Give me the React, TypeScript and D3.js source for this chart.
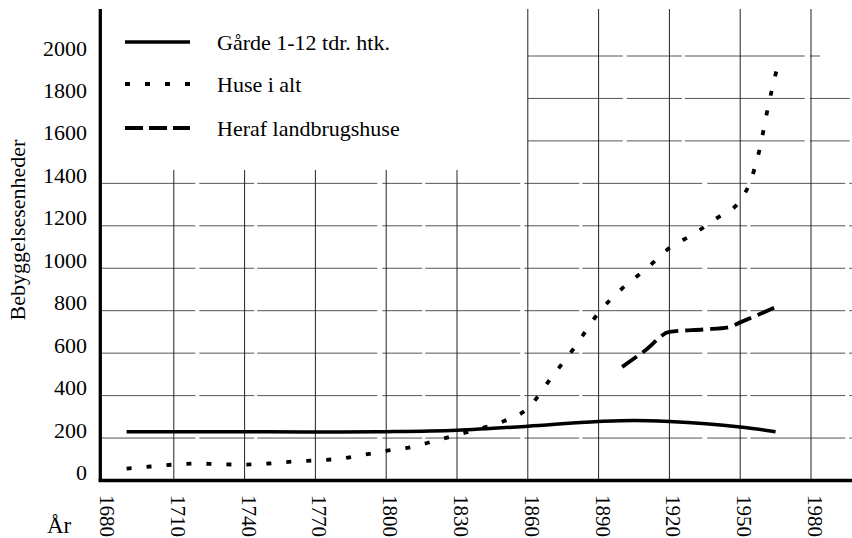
import React from "react";
import * as d3 from "d3";

// Gårde 1-12 tdr. htk.
const gaardeYears = [1690, 1720, 1750, 1780, 1800, 1830, 1860, 1890, 1905, 1920, 1950, 1965];
const gaardeValues = [230, 230, 230, 228, 230, 237, 256, 278, 283, 278, 252, 230];

// Huse i alt
const huseYears = [1690, 1700, 1710, 1720, 1730, 1740, 1750, 1760, 1770, 1780, 1790, 1800, 1810, 1820, 1830, 1840, 1850, 1860, 1870, 1880, 1890, 1900, 1910, 1920, 1930, 1940, 1950, 1954, 1958, 1962, 1966];
const huseValues = [56, 66, 75, 80, 76, 75, 80, 89, 95, 102, 120, 140, 156, 185, 215, 245, 280, 340, 485, 630, 790, 905, 995, 1095, 1160, 1235, 1320, 1400, 1550, 1770, 1960];

// Heraf landbrugshuse
const landYears = [1900, 1910, 1920, 1935, 1945, 1950, 1967];
const landValues = [535, 615, 700, 712, 722, 745, 826];

const yTicks = [0, 200, 400, 600, 800, 1000, 1200, 1400, 1600, 1800, 2000];
const xTicks = [1680, 1710, 1740, 1770, 1800, 1830, 1860, 1890, 1920, 1950, 1980];

const legendLabels = ["Gårde 1-12 tdr. htk.", "Huse i alt", "Heraf landbrugshuse"];

const W = 852;
const H = 538;
const FONT = "Liberation Serif, Times New Roman, DejaVu Serif, serif";

export default function App() {
  const x = d3.scaleLinear().domain([1680, 1980]).range([103, 811]);
  const y = d3.scaleLinear().domain([0, 2000]).range([480.5, 56]);
  const axisX = 100.3;
  const splitX = x(1860);

  const line = (years: number[], values: number[]) =>
    d3
      .line<number>()
      .x((_, i) => x(years[i]))
      .y((d) => y(d))
      .curve(d3.curveMonotoneX)(values) || "";

  // scanned grid lines are broken here and there
  const gridDash = "95 4 55 3 120 5 40 3";

  const legendDash = ["none", "5 15", "18 6"];
  const legendY = [42, 84, 128];

  return (
    <svg
      width={W}
      height={H}
      style={{ position: "absolute", left: 0, top: 0, background: "#fff", fontFamily: FONT }}
    >
      <rect width={W} height={H} fill="#fff" />
      {/* horizontal grid */}
      <g stroke="#555" strokeWidth={1} strokeDasharray={gridDash}>
        {yTicks
          .filter((v) => v > 0)
          .map((v) => {
            const x0 = v > 1400 ? splitX : axisX;
            const x1 = v === 2000 ? 820 : W;
            return <line key={v} x1={x0} x2={x1} y1={y(v)} y2={y(v)} />;
          })}
      </g>
      {/* vertical grid */}
      <g stroke="#222" strokeWidth={1}>
        {xTicks
          .filter((t) => t > 1680)
          .map((t) => (
            <line key={t} x1={x(t)} x2={x(t)} y1={t >= 1860 ? 9 : 170} y2={y(0)} />
          ))}
      </g>
      {/* axes */}
      <line x1={axisX} x2={axisX} y1={9} y2={y(0) + 1.6} stroke="#000" strokeWidth={3.3} />
      <line x1={axisX - 1.6} x2={W} y1={y(0)} y2={y(0)} stroke="#000" strokeWidth={3.3} />

      {/* tick labels */}
      <g style={{ fontFamily: FONT }} fontSize={22} fill="#000">
        {yTicks.map((v) => (
          <text key={v} x={87} y={y(v) - 8} textAnchor="end" dominantBaseline="central">
            {v}
          </text>
        ))}
        {xTicks.map((t) => (
          <text
            key={t}
            transform={`translate(${x(t) + 4},495) rotate(90)`}
            textAnchor="start"
            dominantBaseline="central"
            fontSize={21}
          >
            {t}
          </text>
        ))}
        <text x={47} y={533} fontSize={23}>
          År
        </text>
        <text transform="translate(25,230) rotate(-90)" textAnchor="middle" fontSize={22}>
          Bebyggelsesenheder
        </text>
      </g>

      {/* series */}
      <path d={line(gaardeYears, gaardeValues)} fill="none" stroke="#000" strokeWidth={3.5} />
      <path
        d={line(huseYears, huseValues)}
        fill="none"
        stroke="#000"
        strokeWidth={3.8}
        strokeDasharray="5 15"
      />
      <path
        d={line(landYears, landValues)}
        fill="none"
        stroke="#000"
        strokeWidth={3.8}
        strokeDasharray="18 7"
      />

      {/* legend */}
      <g style={{ fontFamily: FONT }} fontSize={22} fill="#000">
        {legendLabels.map((lab, i) => (
          <g key={lab}>
            <line
              x1={125}
              x2={190}
              y1={legendY[i]}
              y2={legendY[i]}
              stroke="#000"
              strokeWidth={i === 0 ? 3.5 : 3.8}
              strokeDasharray={legendDash[i]}
            />
            <text x={217} y={legendY[i] + 8}>
              {lab}
            </text>
          </g>
        ))}
      </g>
    </svg>
  );
}
